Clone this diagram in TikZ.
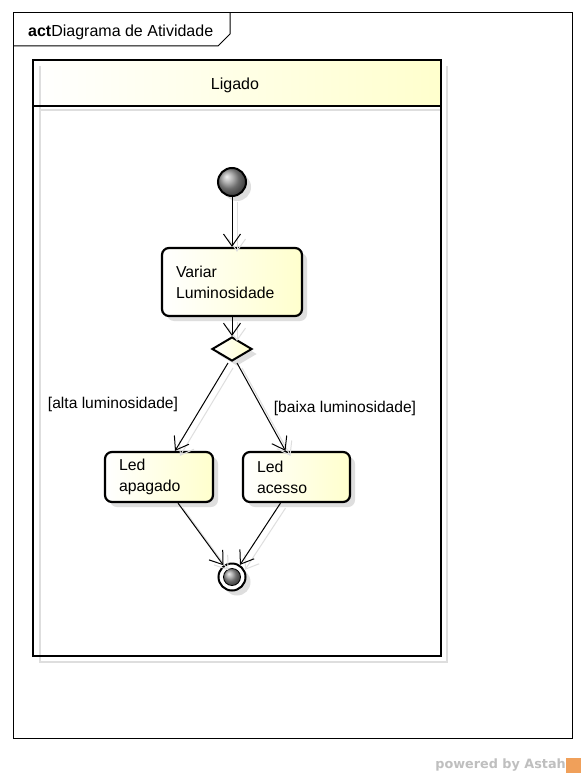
\documentclass[tikz,border=0pt]{standalone}
\usepackage{fontspec}
\setmainfont{Liberation Sans}
\newfontfamily\dejavu{DejaVu Sans}
\usetikzlibrary{shapes.geometric,shadows,arrows.meta}
\definecolor{paleyel}{RGB}{255,255,205}
\definecolor{shadowgray}{RGB}{222,222,222}
\definecolor{astahorange}{RGB}{240,160,90}
\tikzset{
  shade/.style={left color=white,right color=paleyel},
  dshadow/.style={drop shadow={shadow xshift=5pt,shadow yshift=-5pt,fill=shadowgray,opacity=1}},
  actionbox/.style={draw,line width=2.2pt,rounded corners=7pt,shade,dshadow,
     align=left,inner xsep=14pt,inner ysep=0pt,minimum height=68pt,
     font=\fontsize{15.8}{21}\selectfont},
  flow/.style={line width=1pt,-{Straight Barb[length=12pt,width=17pt,line width=1pt]},
     preaction={draw=shadowgray,line width=1pt,transform canvas={xshift=5pt,yshift=-5pt}}},
  guard/.style={font=\fontsize{15.6}{18}\selectfont,inner sep=0pt},
}
\begin{document}
\begin{tikzpicture}[x=1pt,y=-1pt]
\useasboundingbox[fill=white] (0,0) rectangle (585,778);
% outer frame
\draw[line width=1pt] (13,13) rectangle (572,738);
\draw[line width=1pt] (13,46) -- (218,46) -- (230,34) -- (230,13);
\node[anchor=base west,inner sep=0pt,font=\fontsize{16}{18}\selectfont] (title) at (28,37)
  {\textbf{act}Diagrama de Atividade};
% partition
\fill[shade] (33,60) rectangle (441,106);
\draw[shadowgray,line width=2.5pt] (40,66) -- (40,662) -- (447,662) -- (447,66);
\draw[shadowgray,line width=2.5pt] (40,110) -- (441,110);
\draw[line width=2.5pt] (33,60) rectangle (441,656);
\draw[line width=2.5pt] (33,106) -- (441,106);
\node[font=\fontsize{16}{18}\selectfont] (lig) at (235,85) {Ligado};
% nodes
\node[circle,draw,line width=2pt,minimum size=28pt,inner sep=0pt,ball color=gray!80,dshadow] (ini) at (232,182) {};
\node[actionbox,text width=112pt] (var) at (232,282) {Variar\\Luminosidade};
\node[diamond,draw,line width=2pt,minimum width=40pt,minimum height=24pt,inner sep=0pt,shade,dshadow] (dec) at (232,349) {};
\node[actionbox,text width=80pt,minimum height=50pt] (apag) at (159,477) {Led\\apagado};
\node[actionbox,text width=79pt,minimum height=50pt] (aces) at (296.5,477) {Led\\acesso};
\node[circle,draw,line width=2pt,minimum size=27pt,inner sep=0pt,fill=white,dshadow] (fin) at (232,577) {};
\node[circle,minimum size=17pt,inner sep=0pt,draw,line width=0.8pt,ball color=gray!80] (fincore) at (fin.center) {};
% labels
\node[guard] (alta) at (113,404) {[alta luminosidade]};
\node[guard] (baixa) at (345,408) {[baixa luminosidade]};
% connectors
\draw[flow] (ini) -- (var);
\draw[flow] (var) -- (dec);
\draw[flow] ([xshift=-4pt,yshift=-1pt]dec.south) -- ([xshift=16pt]apag.north);
\draw[flow] ([xshift=5pt,yshift=-1pt]dec.south) -- ([xshift=-11pt]aces.north);
\draw[flow] ([xshift=19pt]apag.south) -- (fin);
\draw[flow] ([xshift=-16pt]aces.south) -- (fin);
% footer
\node[anchor=east,text=gray!50,font=\dejavu\bfseries\fontsize{12.8}{14}\selectfont,inner sep=0pt] (pow) at (566,765) {powered by Astah};
\node[fill=astahorange,minimum size=15pt,inner sep=0pt,anchor=west] (logo) at (pow.east) {};
\end{tikzpicture}
\end{document}
